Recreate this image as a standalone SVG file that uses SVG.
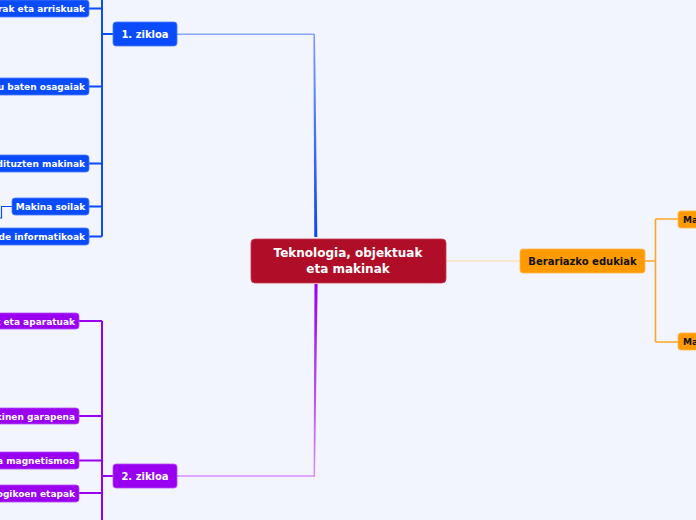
<svg xmlns="http://www.w3.org/2000/svg" width="696" height="520" viewBox="0 0 696 520">
<defs>
<linearGradient id="gBlue" x1="0" y1="1" x2="0" y2="0"><stop offset="0" stop-color="#0a46f5"/><stop offset="1" stop-color="#7d9cff"/></linearGradient>
<linearGradient id="gPurple" x1="0" y1="0" x2="0" y2="1"><stop offset="0" stop-color="#9400f0"/><stop offset="1" stop-color="#d38bff"/></linearGradient>
</defs>
<style>
text{font-family:"DejaVu Sans","Verdana",sans-serif;font-weight:bold}
.blue{fill:#0a4cfb;stroke:#4d7cff;stroke-width:0.8}
.purple{fill:#9a00f0;stroke:#b84dff;stroke-width:0.8}
.orange{fill:#ff9a00;stroke:#ffb84d;stroke-width:0.8}
.w{fill:#ffffff}
.k{fill:#111111}
.s9{font-size:9px}
.s10{font-size:10px}
.s12{font-size:12px}
.lb{stroke:#0a4cfb;stroke-width:2;fill:none}
.lp{stroke:#9a00f0;stroke-width:2;fill:none}
.lo{stroke:#ffa526;stroke-width:1.6;fill:none}
</style>
<rect x="0" y="0" width="696" height="520" fill="#f2f5fe"/>
<g id="connectors">
<polygon points="313.4,34 315,34 317.3,237 314.3,237" fill="url(#gBlue)"/>
<line x1="177" y1="34.2" x2="314.5" y2="34.2" stroke="#88a6ff" stroke-width="1.5"/>
<polygon points="314.5,284 317.6,284 315,476.5 313.6,476.5" fill="url(#gPurple)"/>
<line x1="177" y1="476" x2="315" y2="476" stroke="#d58cff" stroke-width="1.5"/>
<line x1="446" y1="261" x2="520" y2="261" stroke="#ffd79a" stroke-width="1"/>
<path class="lb" d="M102,-5 V236.5 M89,8.5 H102 M89,86.5 H102 M89,163.5 H102 M89,206.5 H102 M89,236.5 H102 M102,34 H113"/>
<path d="M12,206.5 H1.5 V218 H-5" stroke="#0a4cfb" stroke-width="1.2" fill="none"/>
<path class="lp" d="M102,321 V525 M79,321 H102 M79,416 H102 M79,460.5 H102 M79,493 H102 M102,476 H113"/>
<path class="lo" d="M645,261 H655.5 M655.5,219 V342 M655.5,219 H678 M655.5,342 H678"/>
</g>
<g id="center">
<rect x="251" y="239" width="195" height="44" rx="4" fill="#b00d28" stroke="#c53a50" stroke-width="0.8"/>
<text class="w s12" x="348" y="257" text-anchor="middle">Teknologia, objektuak</text>
<text class="w s12" x="348" y="273" text-anchor="middle">eta makinak</text>
</g>
<g id="zikloa1">
<rect class="blue" x="113" y="22" width="64" height="24" rx="3"/>
<text class="w s10" x="145" y="38" text-anchor="middle">1. zikloa</text>
</g>
<g id="zikloa2">
<rect class="purple" x="113" y="464" width="64" height="24" rx="3"/>
<text class="w s10" x="145" y="480" text-anchor="middle">2. zikloa</text>
</g>
<g id="berariazko">
<rect class="orange" x="520" y="249" width="125" height="24" rx="3"/>
<text class="k s10" x="582.5" y="265" text-anchor="middle">Berariazko edukiak</text>
</g>
<g id="b1">
<rect class="blue" x="-20" y="0" width="109" height="17" rx="3"/>
<text class="w s9" x="85" y="12" text-anchor="end">rak eta arriskuak</text>
</g>
<g id="b2">
<rect class="blue" x="-20" y="78" width="109" height="17" rx="3"/>
<text class="w s9" x="85" y="90" text-anchor="end">u baten osagaiak</text>
</g>
<g id="b3">
<rect class="blue" x="-20" y="155" width="109" height="17" rx="3"/>
<text class="w s9" x="85" y="167" text-anchor="end">dituzten makinak</text>
</g>
<g id="b4">
<rect class="blue" x="12" y="198" width="77" height="17" rx="3"/>
<text class="w s9" x="50.5" y="210" text-anchor="middle">Makina soilak</text>
</g>
<g id="b5">
<rect class="blue" x="-20" y="228" width="109" height="17" rx="3"/>
<text class="w s9" x="85" y="240" text-anchor="end">de informatikoak</text>
</g>
<g id="p1">
<rect class="purple" x="-20" y="313" width="99" height="16" rx="3"/>
<text class="w s9" x="75" y="324.5" text-anchor="end">k eta aparatuak</text>
</g>
<g id="p2">
<rect class="purple" x="-20" y="408" width="99" height="16" rx="3"/>
<text class="w s9" x="75" y="419.5" text-anchor="end">kinen garapena</text>
</g>
<g id="p3">
<rect class="purple" x="-20" y="452" width="99" height="17" rx="3"/>
<text class="w s9" x="75" y="464" text-anchor="end">a magnetismoa</text>
</g>
<g id="p4">
<rect class="purple" x="-20" y="485" width="99" height="17" rx="3"/>
<text class="w s9" x="75" y="497" text-anchor="end">ogikoen etapak</text>
</g>
<g id="o1">
<rect class="orange" x="678" y="211" width="40" height="17" rx="3"/>
<text class="k s9" x="683" y="223">Ma</text>
</g>
<g id="o2">
<rect class="orange" x="678" y="333" width="40" height="17" rx="3"/>
<text class="k s9" x="683" y="345">Ma</text>
</g>
</svg>
